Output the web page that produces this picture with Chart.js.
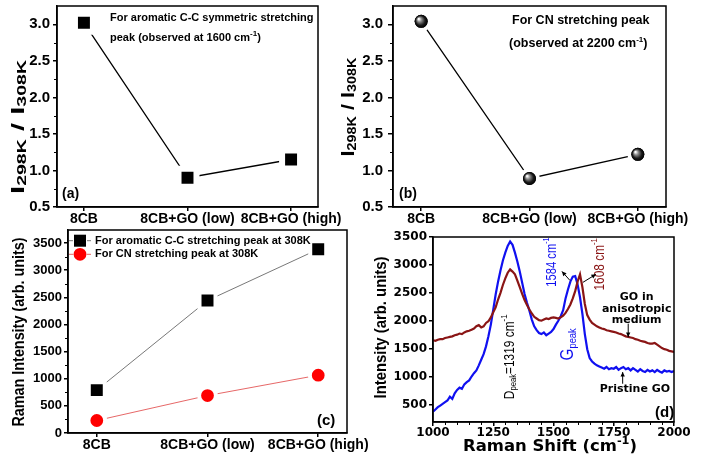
<!DOCTYPE html>
<html>
<head>
<meta charset="utf-8">
<script src="https://cdn.jsdelivr.net/npm/chart.js@4.4.0/dist/chart.umd.min.js"></script>
<style>
  body { margin: 0; background: #fff; }
  #wrap { position: relative; width: 713px; height: 460px; overflow: hidden; }
  canvas { position: absolute; }
</style>
</head>
<body>
<div id="wrap">
  <canvas id="chartA" width="356" height="228" style="left:0;top:0"></canvas>
  <canvas id="chartB" width="383" height="228" style="left:330px;top:0"></canvas>
  <canvas id="chartD" width="357" height="232" style="left:356px;top:228px"></canvas>
  <canvas id="chartC" width="380" height="232" style="left:0;top:228px"></canvas>
</div>
<script>
// samples
const categories = ['8CB', '8CB+GO (low)', '8CB+GO (high)'];
const ratioCC = [3.02, 0.90, 1.15];   // (a) aromatic C-C, I298K / I308K
const ratioCN = [3.04, 0.89, 1.22];   // (b) CN stretching
const ratioTicks = [0.5, 1.0, 1.5, 2.0, 2.5, 3.0];
const intensityCC = [790, 2440, 3385];   // (c) at 308K
const intensityCN = [230, 690, 1065];
const intensityTicks = [0, 500, 1000, 1500, 2000, 2500, 3000, 3500];

// (d) Raman spectra
const ramanShift = [1000,1010,1020,1030,1040,1050,1060,1070,1080,1090,
  1100,1110,1120,1130,1140,1150,1160,1170,1180,1190,
  1200,1210,1220,1230,1240,1250,1260,1270,1280,1290,
  1300,1310,1320,1330,1340,1350,1360,1370,1380,1390,
  1400,1410,1420,1430,1440,1450,1460,1470,1480,1490,
  1500,1510,1520,1530,1540,1550,1560,1570,1580,1590,
  1600,1610,1620,1630,1640,1650,1660,1670,1680,1690,
  1700,1710,1720,1730,1740,1750,1760,1770,1780,1790,
  1800,1810,1820,1830,1840,1850,1860,1870,1880,1890,
  1900,1910,1920,1930,1940,1950,1960,1970,1980,1990,2000];
const pristineGO = [370,410,450,480,510,540,570,640,600,700,
  760,800,780,860,900,930,1000,1060,1110,1200,
  1300,1400,1540,1720,1930,2200,2470,2700,2900,3080,
  3220,3340,3420,3360,3220,3060,2880,2680,2480,2320,
  2180,2020,1900,1830,1780,1760,1790,1740,1770,1800,
  1850,1930,2000,2080,2190,2400,2560,2700,2790,2800,
  2650,2420,2120,1760,1490,1330,1270,1230,1200,1180,
  1160,1140,1170,1130,1150,1140,1170,1120,1150,1170,
  1130,1150,1110,1150,1120,1090,1130,1100,1080,1120,
  1090,1110,1080,1120,1090,1070,1110,1090,1100,1080,1100];
const goMedium = [1650,1640,1660,1670,1670,1690,1700,1710,1720,1740,
  1750,1770,1760,1790,1810,1820,1840,1860,1900,1920,
  1880,1900,1960,1990,2060,2150,2240,2380,2500,2640,
  2760,2860,2920,2880,2830,2720,2600,2480,2370,2280,
  2200,2130,2070,2040,2010,2000,2020,2040,2030,2050,
  2060,2050,2040,2060,2090,2140,2210,2290,2400,2530,
  2700,2830,2600,2300,2100,2020,1960,1930,1900,1880,
  1860,1850,1830,1820,1810,1800,1790,1770,1760,1740,
  1720,1710,1700,1690,1670,1660,1640,1630,1620,1600,
  1590,1590,1600,1570,1540,1510,1490,1480,1460,1450,1440];
const shiftTicks = [1000, 1250, 1500, 1750, 2000];
const spectrumTicks = [500, 1000, 1500, 2000, 2500, 3000, 3500];

const ARIAL = '"Liberation Sans", Arial, sans-serif';
const DEJAVU = '"DejaVu Sans", sans-serif';
Chart.defaults.font.family = ARIAL;
Chart.defaults.color = '#000';
const UP = -Math.PI / 2;

function richText(ctx, parts, x, y, opt) {
  opt = opt || {};
  ctx.save();
  ctx.translate(x, y);
  if (opt.rotate) ctx.rotate(opt.rotate);
  let w = 0;
  const widths = parts.map(p => { ctx.font = p[1]; const m = ctx.measureText(p[0]).width; w += m; return m; });
  const sx = opt.len ? opt.len / w : (opt.sx || 1);
  ctx.scale(sx, 1);
  let cx = opt.align === 'left' ? 0 : -w / 2;
  ctx.textBaseline = 'middle';
  ctx.fillStyle = opt.color || '#000';
  parts.forEach((p, i) => { ctx.font = p[1]; ctx.fillText(p[0], cx, p[2] || 0); cx += widths[i]; });
  ctx.restore();
}

function arrow(ctx, x1, y1, x2, y2) {
  const a = Math.atan2(y2 - y1, x2 - x1), h = 5;
  ctx.save();
  ctx.strokeStyle = '#000'; ctx.fillStyle = '#000'; ctx.lineWidth = 1;
  ctx.beginPath(); ctx.moveTo(x1, y1); ctx.lineTo(x2, y2); ctx.stroke();
  ctx.beginPath(); ctx.moveTo(x2, y2);
  ctx.lineTo(x2 - h * Math.cos(a - 0.45), y2 - h * Math.sin(a - 0.45));
  ctx.lineTo(x2 - h * Math.cos(a + 0.45), y2 - h * Math.sin(a + 0.45));
  ctx.closePath(); ctx.fill();
  ctx.restore();
}

function frame(c) {
  const a = c.chartArea, ctx = c.ctx;
  ctx.save(); ctx.strokeStyle = '#000'; ctx.lineWidth = 1.5;
  ctx.strokeRect(a.left, a.top, a.right - a.left, a.bottom - a.top);
  ctx.restore();
}

function minorY(c, ticks, n) {
  const ctx = c.ctx, s = c.scales.y, x0 = c.chartArea.left;
  ctx.save(); ctx.strokeStyle = '#000'; ctx.lineWidth = 1;
  for (let i = 0; i < ticks.length - 1; i++) for (let k = 1; k < n; k++) {
    const y = Math.round(s.getPixelForValue(ticks[i] + (ticks[i + 1] - ticks[i]) * k / n)) + 0.5;
    ctx.beginPath(); ctx.moveTo(x0, y); ctx.lineTo(x0 - 3, y); ctx.stroke();
  }
  ctx.restore();
}

function minorX(c, ticks, n) {
  const ctx = c.ctx, s = c.scales.x, y0 = c.chartArea.bottom;
  ctx.save(); ctx.strokeStyle = '#000'; ctx.lineWidth = 1;
  for (let i = 0; i < ticks.length - 1; i++) for (let k = 1; k < n; k++) {
    const x = Math.round(s.getPixelForValue(ticks[i] + (ticks[i + 1] - ticks[i]) * k / n)) + 0.5;
    ctx.beginPath(); ctx.moveTo(x, y0); ctx.lineTo(x, y0 + 3); ctx.stroke();
  }
  ctx.restore();
}

// shaded ball drawn over each point element of dataset 0
function shadeSpheres(c) {
  const ctx = c.ctx;
  c.getDatasetMeta(0).data.forEach(el => {
    const x = el.x, y = el.y;
    const g = ctx.createRadialGradient(x - 2.5, y - 2.5, 0.5, x, y, 6.5);
    g.addColorStop(0, '#ffffff');
    g.addColorStop(0.3, '#8a8a8a');
    g.addColorStop(0.7, '#1a1a1a');
    g.addColorStop(1, '#000000');
    ctx.save();
    ctx.fillStyle = g;
    ctx.beginPath(); ctx.arc(x, y, 6.5, 0, Math.PI * 2); ctx.fill();
    ctx.restore();
  });
}

const points = vals => vals.map((v, i) => ({ x: i, y: v }));

function axisStyle(size, family) {
  return {
    grid: { drawOnChartArea: false, tickLength: 4, color: '#000', lineWidth: 1.5 },
    border: { color: '#000', width: 1.5 },
    font: { family: family || ARIAL, size: size, weight: 'bold' }
  };
}

function categoryChart(id, cfg) {
  const xs = axisStyle(14), ys = axisStyle(cfg.yFont);
  return new Chart(document.getElementById(id), {
    type: 'line',
    data: { datasets: cfg.datasets },
    options: {
      responsive: false, animation: false, events: [],
      layout: { padding: cfg.padding, autoPadding: false },
      plugins: { legend: { display: false }, tooltip: { enabled: false } },
      scales: {
        x: {
          type: 'linear', bounds: 'data', min: -0.26, max: 2.26,
          afterBuildTicks: s => { s.ticks = categories.map((c, i) => ({ value: i })); },
          ticks: { callback: v => categories[v], font: xs.font, color: '#000', padding: 0, maxRotation: 0, autoSkip: false },
          grid: xs.grid, border: xs.border,
          afterFit: s => { s.height = cfg.xh; s.paddingLeft = 0; s.paddingRight = 0; }
        },
        y: {
          type: 'linear', bounds: 'data', min: cfg.yMin, max: cfg.yMax,
          afterBuildTicks: s => { s.ticks = cfg.yTicks.map(v => ({ value: v })); },
          ticks: { callback: cfg.yFmt, font: ys.font, color: '#000', padding: cfg.yPad },
          grid: Object.assign({}, ys.grid, { tickLength: cfg.yTick }), border: ys.border,
          afterFit: s => { s.width = cfg.yw; s.paddingTop = 0; s.paddingBottom = 0; }
        }
      }
    },
    plugins: [{ id: 'decor', afterDatasetsDraw: cfg.over || (() => {}), afterDraw: cfg.decor }]
  });
}

function ratioTitle(ctx, x, y, len) {
  const big = 'bold 18px ' + ARIAL, small = 'bold 12px ' + ARIAL;
  richText(ctx, [['I', big], ['298K', small, 4], [' / ', big], ['I', big], ['308K', small, 4]], x, y, { rotate: UP, len: len });
}

// (a)
categoryChart('chartA', {
  padding: { left: 0, top: 6, right: 38, bottom: 0 },
  xh: 21, yw: 57, yMin: 0.5, yMax: 3.25, yTicks: ratioTicks, yFmt: v => v.toFixed(1), yFont: 15, yPad: 3, yTick: 4,
  datasets: [{
    data: points(ratioCC), borderColor: '#000', borderWidth: 1.3,
    pointStyle: 'rect', pointRadius: 12.7, pointBackgroundColor: '#000', pointBorderColor: '#fff', pointBorderWidth: 6
  }],
  decor: c => {
    const ctx = c.ctx;
    frame(c); minorY(c, ratioTicks, 2);
    ratioTitle(ctx, 19, 127, 134);
    const f = 'bold 11px ' + ARIAL;
    richText(ctx, [['For aromatic C-C symmetric stretching', f]], 110, 18, { align: 'left' });
    richText(ctx, [['peak (observed at 1600 cm', f], ['-1', 'bold 8px ' + ARIAL, -4], [')', f]], 110, 38, { align: 'left' });
    richText(ctx, [['(a)', 'bold 14px ' + ARIAL]], 62, 194, { align: 'left' });
  }
});

// (b)
categoryChart('chartB', {
  padding: { left: 0, top: 6, right: 47, bottom: 0 },
  xh: 21, yw: 63, yMin: 0.5, yMax: 3.25, yTicks: ratioTicks, yFmt: v => v.toFixed(1), yFont: 15, yPad: 5, yTick: 5,
  datasets: [{
    data: points(ratioCN), borderColor: '#000', borderWidth: 1.3,
    pointStyle: 'circle', pointRadius: 8.5, pointBackgroundColor: '#000', pointBorderColor: '#fff', pointBorderWidth: 4
  }],
  over: shadeSpheres,
  decor: c => {
    const ctx = c.ctx, ox = 330;
    frame(c); minorY(c, ratioTicks, 2);
    ratioTitle(ctx, 349 - ox, 107, 99);
    const f = 'bold 12.5px ' + ARIAL;
    richText(ctx, [['For CN stretching peak', f]], 512 - ox, 21, { align: 'left' });
    richText(ctx, [['(observed at 2200 cm', f], ['-1', 'bold 8px ' + ARIAL, -4], [')', f]], 509 - ox, 44, { align: 'left' });
    richText(ctx, [['(b)', 'bold 14px ' + ARIAL]], 399 - ox, 194, { align: 'left' });
  }
});

// (c)
categoryChart('chartC', {
  padding: { left: 0, top: 2, right: 33, bottom: 0 },
  xh: 27, yw: 68, yMin: 0, yMax: 3740, yTicks: intensityTicks, yFmt: v => String(v), yFont: 13, yPad: 2, yTick: 4,
  datasets: [{
    data: points(intensityCC), borderColor: '#555', borderWidth: 0.8,
    pointStyle: 'rect', pointRadius: 11.3, pointBackgroundColor: '#000', pointBorderColor: '#fff', pointBorderWidth: 4
  }, {
    data: points(intensityCN), borderColor: '#e04040', borderWidth: 0.8,
    pointStyle: 'circle', pointRadius: 8.4, pointBackgroundColor: '#ff0000', pointBorderColor: '#fff', pointBorderWidth: 4
  }],
  decor: c => {
    const ctx = c.ctx, oy = 228;
    frame(c); minorY(c, intensityTicks, 2);
    richText(ctx, [['Raman Intensity (arb. units)', 'bold 16px ' + ARIAL]], 20, 332 - oy, { rotate: UP, len: 189 });
    const f = 'bold 11px ' + ARIAL;
    const items = [['For aromatic C-C stretching peak at 308K', '#555', '#000', 'rect', 240.7],
                   ['For CN stretching peak at 308K', '#e04040', '#ff0000', 'circle', 254.3]];
    items.forEach(it => {
      const y = it[4] - oy;
      ctx.save();
      ctx.strokeStyle = it[1]; ctx.lineWidth = 0.8;
      ctx.beginPath(); ctx.moveTo(69, y); ctx.lineTo(73, y); ctx.moveTo(87, y); ctx.lineTo(91, y); ctx.stroke();
      ctx.fillStyle = it[2];
      if (it[3] === 'rect') ctx.fillRect(74, y - 6, 12, 12);
      else { ctx.beginPath(); ctx.arc(80, y, 6.4, 0, Math.PI * 2); ctx.fill(); }
      ctx.restore();
      richText(ctx, [[it[0], f]], 95, y, { align: 'left' });
    });
    richText(ctx, [['(c)', 'bold 15px ' + ARIAL]], 317, 421 - oy, { align: 'left' });
  }
});

// (d)
const fd = axisStyle(12, DEJAVU);
new Chart(document.getElementById('chartD'), {
  type: 'line',
  data: {
    datasets: [
      { data: ramanShift.map((v, i) => ({ x: v, y: goMedium[i] })), borderColor: '#8a1515', borderWidth: 2.2, pointRadius: 0 },
      { data: ramanShift.map((v, i) => ({ x: v, y: pristineGO[i] })), borderColor: '#1010f0', borderWidth: 2.2, pointRadius: 0 }
    ]
  },
  options: {
    responsive: false, animation: false, events: [],
    layout: { padding: { left: 0, top: 9, right: 39, bottom: 0 }, autoPadding: false },
    plugins: { legend: { display: false }, tooltip: { enabled: false } },
    scales: {
      x: {
        type: 'linear', bounds: 'data', min: 1000, max: 2000,
        afterBuildTicks: s => { s.ticks = shiftTicks.map(v => ({ value: v })); },
        ticks: { font: fd.font, color: '#000', padding: 0, maxRotation: 0, callback: v => String(v) },
        grid: fd.grid, border: fd.border,
        afterFit: s => { s.height = 38; s.paddingLeft = 0; s.paddingRight = 0; }
      },
      y: {
        type: 'linear', bounds: 'data', min: 185, max: 3500,
        afterBuildTicks: s => { s.ticks = spectrumTicks.map(v => ({ value: v })); },
        ticks: { font: fd.font, color: '#000', padding: 2, callback: v => String(v) },
        grid: fd.grid, border: fd.border,
        afterFit: s => { s.width = 77; s.paddingTop = 0; s.paddingBottom = 0; }
      }
    }
  },
  plugins: [{ id: 'decor', afterDraw: c => {
    const ctx = c.ctx, ox = 356, oy = 228;
    const px = v => c.scales.x.getPixelForValue(v), py = v => c.scales.y.getPixelForValue(v);
    frame(c); minorX(c, shiftTicks, 5);
    richText(ctx, [['Intensity (arb. units)', 'bold 16px ' + ARIAL]], 382 - ox, 327.5 - oy, { rotate: UP, len: 142 });
    richText(ctx, [['Raman Shift (cm', 'bold 16px ' + DEJAVU], ['-1', 'bold 11px ' + DEJAVU, -6], [')', 'bold 16px ' + DEJAVU]],
      550 - ox, 447 - oy, { len: 174 });
    richText(ctx, [['D', '14px ' + ARIAL], ['peak', '9px ' + ARIAL, 4], ['=1319 cm', '14px ' + ARIAL], ['-1', '9px ' + ARIAL, -5]],
      px(1319), py(1352), { rotate: UP, sx: 0.85 });
    richText(ctx, [['1584 cm', '14px ' + ARIAL], ['-1', '9px ' + ARIAL, -5]], px(1493), py(3051), { rotate: UP, sx: 0.8, color: '#1010f0' });
    richText(ctx, [['G', '18px ' + ARIAL], ['peak', '11px ' + ARIAL, 5]], px(1561), py(1576), { rotate: UP, sx: 0.85, color: '#1010f0' });
    richText(ctx, [['1608 cm', '14px ' + ARIAL], ['-1', '9px ' + ARIAL, -5]], px(1692), py(3010), { rotate: UP, sx: 0.85, color: '#8a1515' });
    arrow(ctx, px(1568), py(2723), px(1535), py(2884));
    arrow(ctx, px(1622), py(2687), px(1676), py(2831));
    const fb = 'bold 11px ' + DEJAVU;
    richText(ctx, [['GO in', fb]], px(1845), py(2424));
    richText(ctx, [['anisotropic', fb]], px(1845), py(2216));
    richText(ctx, [['medium', fb]], px(1845), py(2018));
    arrow(ctx, px(1810), py(1947), px(1810), py(1706));
    richText(ctx, [['Pristine GO', fb]], px(1838), py(781));
    arrow(ctx, px(1787), py(871), px(1787), py(1079));
    richText(ctx, [['(d)', 'bold 15px ' + ARIAL]], px(1961), py(344));
  } }]
});
</script>
</body>
</html>
